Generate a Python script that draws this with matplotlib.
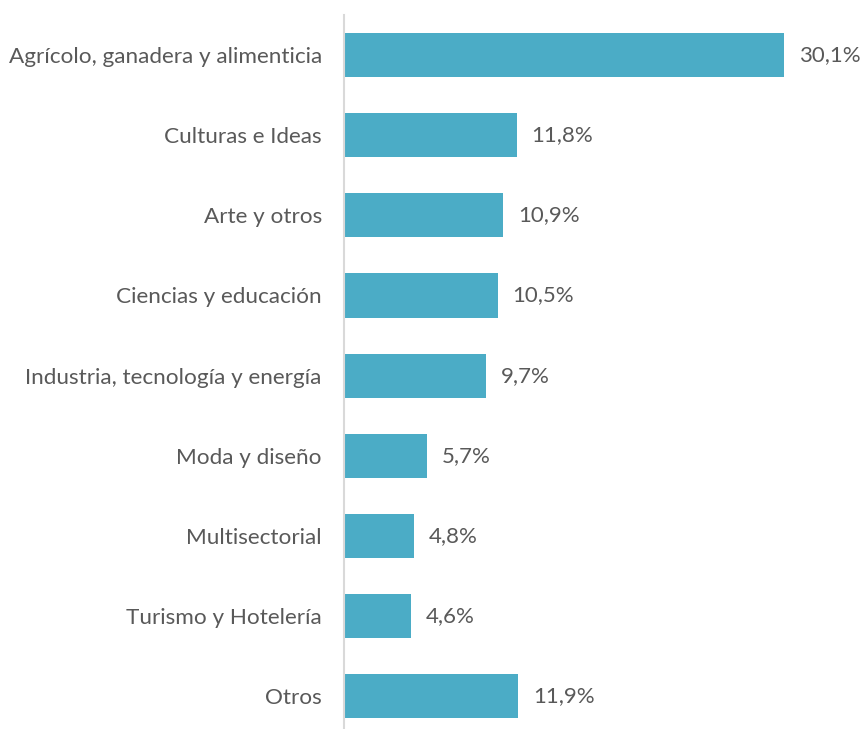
import matplotlib.pyplot as plt

categorias = ['Agrícolo, ganadera y alimenticia', 'Culturas e Ideas', 'Arte y otros',
              'Ciencias y educación', 'Industria, tecnología y energía', 'Moda y diseño',
              'Multisectorial', 'Turismo y Hotelería', 'Otros']
valores = [30.1, 11.8, 10.9, 10.5, 9.7, 5.7, 4.8, 4.6, 11.9]
etiquetas = ['30,1%', '11,8%', '10,9%', '10,5%', '9,7%', '5,7%', '4,8%', '4,6%', '11,9%']

plt.rcParams['font.family'] = ['Lato', 'DejaVu Sans']
gris = '#595959'

fig = plt.figure(figsize=(8.65, 7.29), dpi=100)
ax = fig.add_axes([344 / 865, 0, 512 / 865, 714 / 729])

pos = list(range(len(categorias)))
ax.barh(pos, valores, height=0.55, color='#4BACC6')

for i, (v, t) in enumerate(zip(valores, etiquetas)):
    ax.text(v + 1.0, i, t, va='center', ha='left', fontsize=16, color=gris)

ax.set_xlim(0, 35)
ax.set_ylim(8.41, -0.5)
ax.set_yticks(pos)
ax.set_yticklabels(categorias, fontsize=16.2, color=gris)
ax.tick_params(axis='y', length=0, pad=16)
ax.set_xticks([])
for lado in ['top', 'right', 'bottom']:
    ax.spines[lado].set_visible(False)
ax.spines['left'].set_color('#D9D9D9')
ax.spines['left'].set_linewidth(1.5)

plt.savefig('out.png', dpi=100)
